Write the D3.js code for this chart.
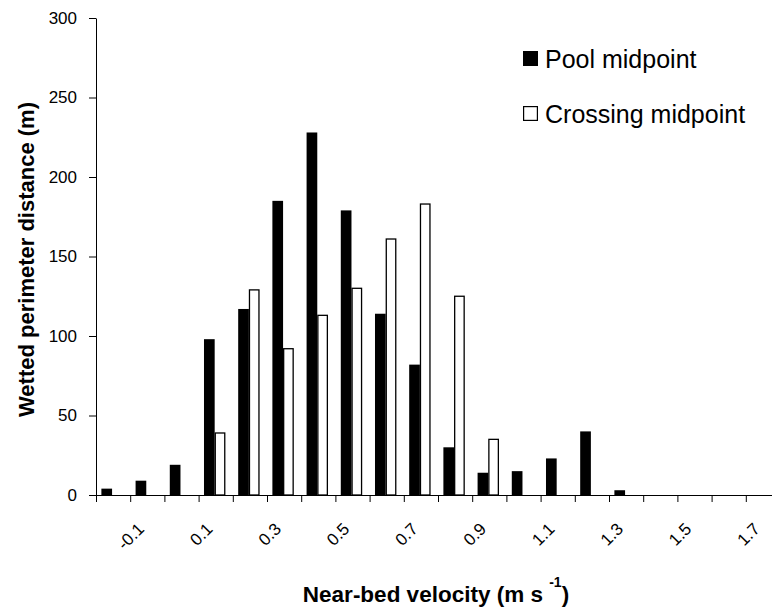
<!DOCTYPE html>
<html>
<head>
<meta charset="utf-8">
<script src="https://cdn.jsdelivr.net/npm/d3@7"></script>
<style>
  html, body { margin: 0; padding: 0; background: #fff; }
  svg { display: block; }
  text { font-family: "Liberation Sans", Arial, sans-serif; fill: #000; }
</style>
</head>
<body>
<svg id="chart" width="772" height="612"></svg>
<script>
const categories = ["-0.2","-0.1","0.0","0.1","0.2","0.3","0.4","0.5","0.6","0.7","0.8","0.9","1.0","1.1","1.2","1.3","1.4","1.5","1.6","1.7"];
const poolMidpoint = [4, 9, 19, 98, 117, 185, 228, 179, 114, 82, 30, 14, 15, 23, 40, 3, 0, 0, 0, 0];
const crossingMidpoint = [0, 0, 0, 39, 129, 92, 113, 130, 161, 183, 125, 35, 0, 0, 0, 0, 0, 0, 0, 0];
const xTickLabels = ["-0.1","0.1","0.3","0.5","0.7","0.9","1.1","1.3","1.5","1.7"];
const yTicks = [0, 50, 100, 150, 200, 250, 300];
const seriesNames = ["Pool midpoint", "Crossing midpoint"];

(function () {
const svg = d3.select("#chart");
const mLeft = 96, mRight = 780, mTop = 18, mBottom = 495;

const x = d3.scaleBand().domain(categories).range([mLeft, mRight]).padding(0);
const xs = d3.scaleBand().domain(seriesNames).range([0, x.bandwidth()]).paddingInner(0).paddingOuter(0.6).align(0.42);
const xb = d3.scaleLinear().domain([0, categories.length]).range([mLeft, mRight]);
const y = d3.scaleLinear().domain([0, 300]).range([mBottom, mTop]);

// bars
const data = categories.map((c, i) => ({c, pool: poolMidpoint[i], cross: crossingMidpoint[i]}));
const g = svg.append("g");
g.selectAll("rect.pool").data(data).join("rect")
  .attr("class", "pool")
  .attr("x", d => x(d.c) + xs(seriesNames[0]))
  .attr("width", xs.bandwidth())
  .attr("y", d => y(d.pool))
  .attr("height", d => mBottom - y(d.pool))
  .attr("fill", "#000");
g.selectAll("rect.cross").data(data.filter(d => d.cross > 0)).join("rect")
  .attr("class", "cross")
  .attr("x", d => x(d.c) + xs(seriesNames[1]) + 0.6)
  .attr("width", xs.bandwidth() - 1.2)
  .attr("y", d => y(d.cross))
  .attr("height", d => mBottom - y(d.cross))
  .attr("fill", "#fff")
  .attr("stroke", "#000")
  .attr("stroke-width", 1.3);

// y axis
const yAxis = svg.append("g")
  .attr("transform", `translate(${mLeft},0)`)
  .call(d3.axisLeft(y).tickValues(yTicks).tickSize(7).tickSizeOuter(0).tickPadding(12));
yAxis.selectAll("text").style("font-size", "17px").attr("fill", "#000");
yAxis.selectAll("line, path").attr("stroke", "#000");

// x axis (boundary ticks)
const xAxis = svg.append("g")
  .attr("transform", `translate(0,${mBottom})`)
  .call(d3.axisBottom(xb).tickValues(d3.range(0, categories.length + 1)).tickSize(7).tickSizeOuter(0).tickFormat(""));
xAxis.selectAll("line, path").attr("stroke", "#000");

// x tick labels
svg.append("g").selectAll("text").data(xTickLabels).join("text")
  .attr("transform", d => `translate(${x(d) + x.bandwidth() / 2 - 2},${mBottom + 35}) rotate(-45)`)
  .attr("text-anchor", "end")
  .style("font-size", "17px")
  .text(d => d);

// y title
svg.append("text")
  .attr("transform", `translate(34,${(mTop + mBottom) / 2 + 3}) rotate(-90)`)
  .attr("text-anchor", "middle")
  .style("font-size", "22px")
  .style("font-weight", "bold")
  .text("Wetted perimeter distance (m)");

// x title
const xt = svg.append("text")
  .attr("x", (mLeft + mRight) / 2 - 2)
  .attr("y", 602)
  .attr("text-anchor", "middle")
  .style("font-size", "22.5px")
  .style("font-weight", "bold");
xt.append("tspan").text("Near-bed velocity (m s ");
xt.append("tspan").attr("dy", -15).style("font-size", "14px").text("-1");
xt.append("tspan").attr("dy", 15).text(")");

// legend
const lg = svg.append("g").selectAll("g").data(seriesNames).join("g")
  .attr("transform", (d, i) => `translate(523,${51 + i * 55})`);
lg.append("rect")
  .attr("x", (d, i) => i === 0 ? 0 : 0.6)
  .attr("y", (d, i) => i === 0 ? 0 : 0.6)
  .attr("width", (d, i) => i === 0 ? 15 : 13.8)
  .attr("height", (d, i) => i === 0 ? 15 : 13.8)
  .attr("fill", (d, i) => i === 0 ? "#000" : "#fff")
  .attr("stroke", "#000")
  .attr("stroke-width", (d, i) => i === 0 ? 0 : 1.2);
lg.append("text")
  .attr("x", 22)
  .attr("y", 17)
  .style("font-size", "25px")
  .text(d => d);
})();
</script>
</body>
</html>
